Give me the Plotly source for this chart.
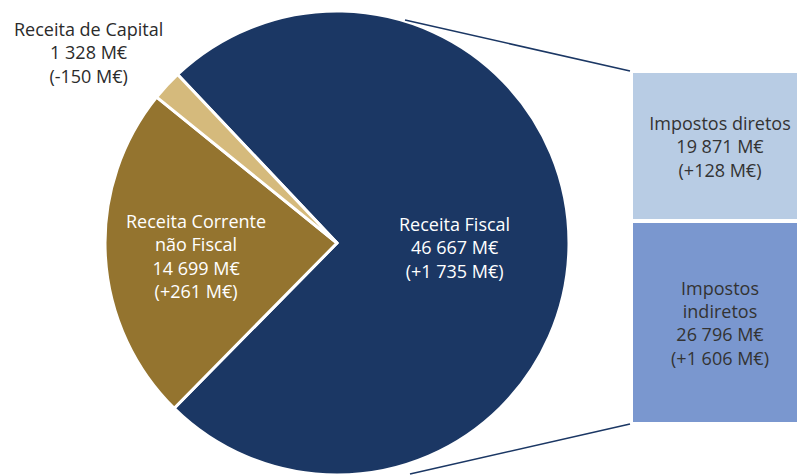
import plotly.graph_objects as go

# Receita total por componente (M€) e variação homóloga
pie_labels = ["Receita Fiscal", "Receita Corrente<br>não Fiscal", "Receita de Capital"]
pie_values = [46667, 14699, 1328]
pie_deltas = [1735, 261, -150]
pie_colors = ["#1B3764", "#94742F", "#D5BA7C"]

# Decomposição da receita fiscal (M€)
tax_labels = ["Impostos<br>indiretos", "Impostos diretos"]
tax_values = [26796, 19871]
tax_deltas = [1606, 128]
tax_colors = ["#7A97CF", "#B8CCE4"]

W, H = 797, 475
FONT = "Open Sans"
FSIZE = 18


def fmt(v):
    return f"{v:,}".replace(",", " ")


def fmt_delta(v):
    sign = "+" if v >= 0 else "-"
    return f"({sign}{fmt(abs(v))} M€)"


def block(label, value, delta):
    return f"{label}<br>{fmt(value)} M€<br>{fmt_delta(delta)}"


# pie geometry (pixels)
cx, diam = 337, 464
pie_dom_x = [(cx - diam / 2) / W, (cx + diam / 2) / W]
pie_dom_y = [0, diam / H]

fig = go.Figure()

fig.add_trace(go.Pie(
    labels=pie_labels,
    values=pie_values,
    sort=False,
    direction="clockwise",
    rotation=-43.4,
    marker=dict(colors=pie_colors, line=dict(color="white", width=3)),
    textinfo="none",
    hoverinfo="skip",
    showlegend=False,
    domain=dict(x=pie_dom_x, y=pie_dom_y),
))

# stacked bar for the tax breakdown
for lab, val, d, col in zip(tax_labels, tax_values, tax_deltas, tax_colors):
    fig.add_trace(go.Bar(
        x=[0], y=[val], width=1,
        marker=dict(color=col, line=dict(color="white", width=4)),
        text=[block(lab, val, d)],
        texttemplate="%{text}",
        textposition="inside",
        insidetextanchor="middle",
        textangle=0,
        constraintext="none",
        textfont=dict(family=FONT, size=FSIZE, color="#333333"),
        hoverinfo="skip",
        showlegend=False,
        cliponaxis=True,
    ))

bar_left_px, bar_unit_px = 631, 178
fig.update_layout(
    barmode="stack",
    width=W, height=H,
    margin=dict(l=0, r=0, t=0, b=0),
    paper_bgcolor="white",
    plot_bgcolor="rgba(0,0,0,0)",
    xaxis=dict(domain=[bar_left_px / W, 1],
               range=[-0.5, -0.5 + (W - bar_left_px) / bar_unit_px],
               visible=False, fixedrange=True),
    yaxis=dict(domain=[(H - 424) / H, (H - 71) / H],
               range=[0, sum(tax_values)],
               visible=False, fixedrange=True),
    uniformtext=dict(mode=False),
)

# connector lines from the pie to the bar
line_style = dict(color="#1B3764", width=1.6)
fig.add_shape(type="line", xref="paper", yref="paper",
              x0=405 / W, y0=1 - 20 / H, x1=630 / W, y1=1 - 71 / H, line=line_style)
fig.add_shape(type="line", xref="paper", yref="paper",
              x0=410 / W, y0=1 - 474 / H, x1=630 / W, y1=1 - 424 / H, line=line_style)

# slice labels
label_pos = [(454, 247, "white"), (196, 256, "white"), (88, 53, "#2B2B2B")]
for lab, val, d, (px, py, col) in zip(pie_labels, pie_values, pie_deltas, label_pos):
    fig.add_annotation(x=px / W, y=1 - py / H, xref="paper", yref="paper",
                       xanchor="center", yanchor="middle",
                       text=block(lab, val, d),
                       showarrow=False, align="center",
                       font=dict(family=FONT, size=FSIZE, color=col))

fig.write_html("out.html", config=dict(displayModeBar=False, staticPlot=True))
